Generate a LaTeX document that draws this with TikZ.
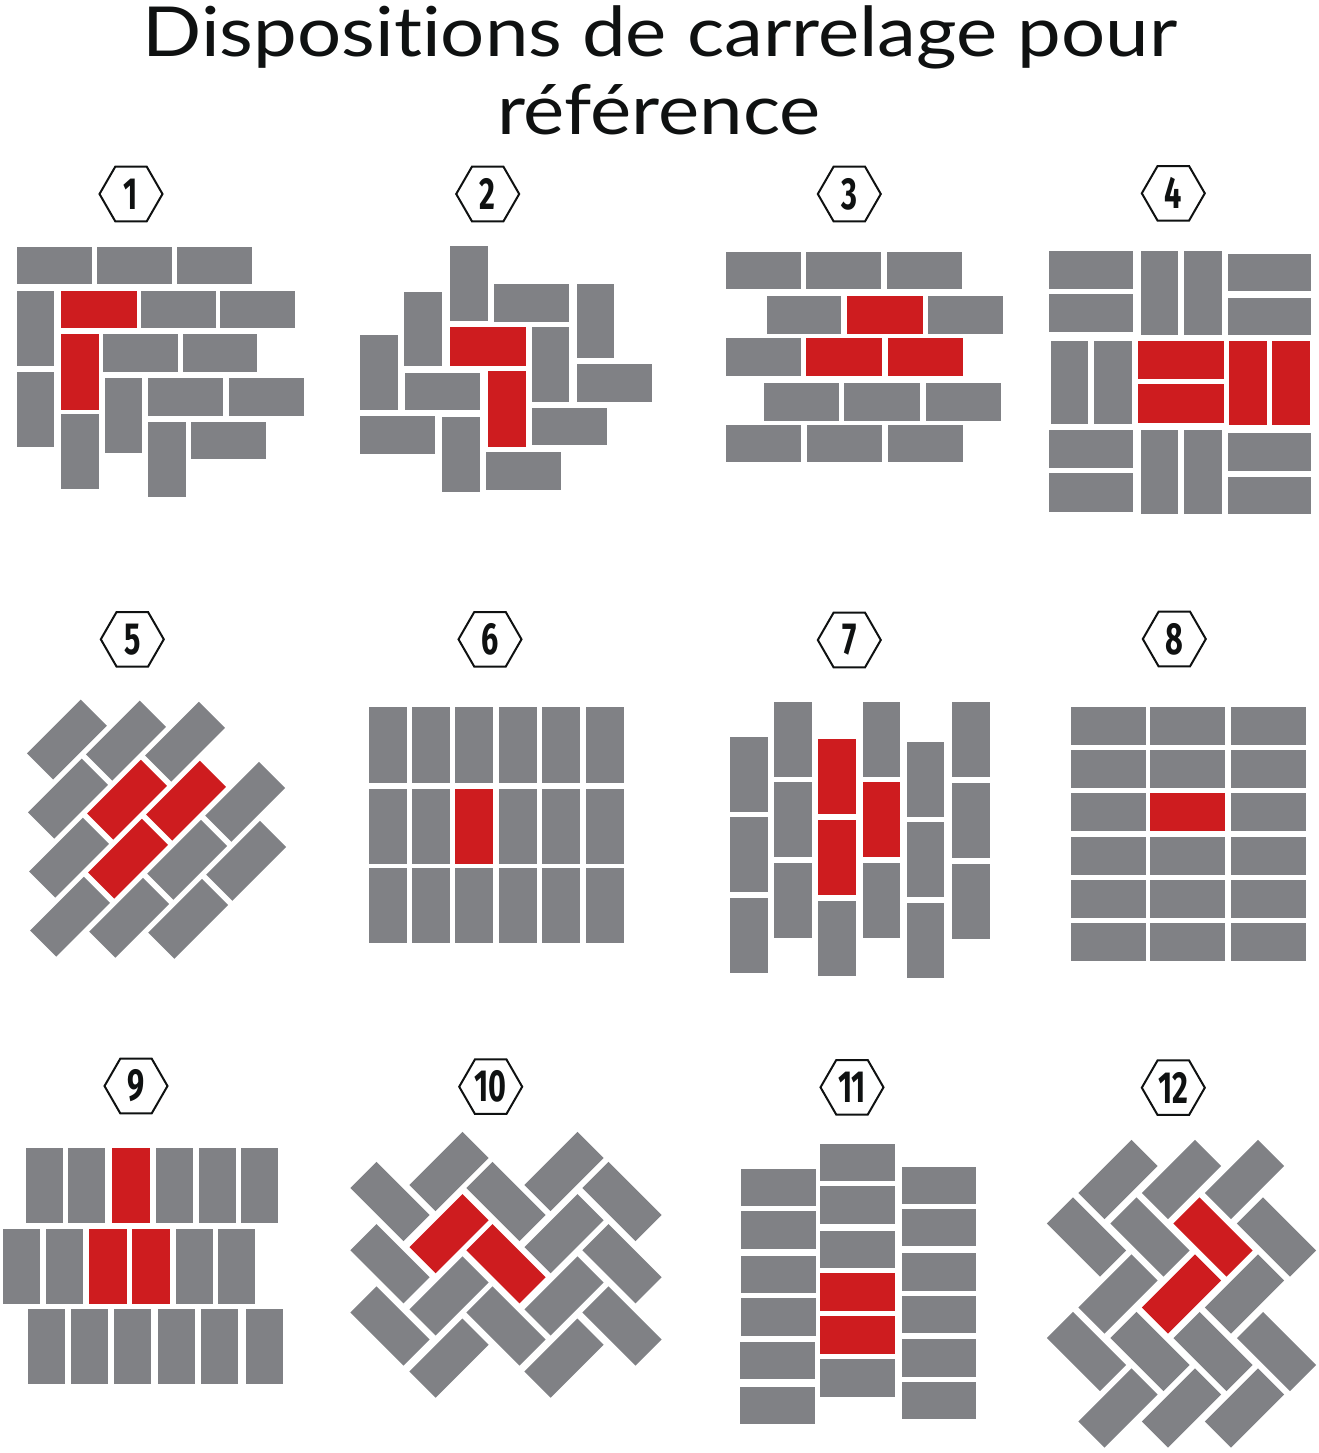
\documentclass[tikz,border=0pt]{standalone}
\usepackage{fontspec}
\setmainfont[Ligatures=NoCommon]{Lato}
\newfontfamily\numfont{Fira Sans}
\usetikzlibrary{shapes.geometric}
\definecolor{tilegray}{RGB}{128,129,133}
\definecolor{tilered}{RGB}{206,28,31}
\definecolor{ink}{RGB}{15,17,17}
\newcommand\Rc[4]{\fill (#1,#2) rectangle (#3,#4);}
\newcommand\Dt[3]{\fill[shift={(#1,#2)},rotate=#3] (-37.5,-18.5) rectangle (37.5,18.5);}
\newcommand\Pf[2]{\fill ({#1-38},{#2-18.5}) rectangle ({#1+38},{#2+18.5});}
\newcommand\hn[1]{\scalebox{0.68}[1]{\numfont\bfseries\fontsize{45}{45}\selectfont #1}}
\newcommand\wide[1]{\scalebox{1.13}[1]{#1}}
\begin{document}
\begin{tikzpicture}[x=1pt,y=-1pt,
  hexa/.style={draw=ink, line width=2pt, regular polygon, regular polygon sides=6,
    minimum size=63pt, inner sep=0pt, text=ink},
  ttl/.style={anchor=base, text=ink, font=\fontsize{69}{69}\selectfont, inner sep=0pt}]
\fill[white] (0,0) rectangle (1318,1453);
\path[use as bounding box] (0,0) rectangle (1318,1453);

% title
\node[ttl] (t1) at (660,57) {\wide{Dispositions de carrelage pour}};
\node[ttl] (t2) at (659,135) {\wide{référence}};

% hexagon labels
\node[hexa] (h1) at (131,194) {\hn{1}};
\node[hexa] (h2) at (487.7,194) {\hn{2}};
\node[hexa] (h3) at (849.3,194) {\hn{3}};
\node[hexa] (h4) at (1173.3,193.3) {\hn{4}};
\node[hexa] (h5) at (132.3,639.3) {\hn{5}};
\node[hexa] (h6) at (490,639.3) {\hn{6}};
\node[hexa] (h7) at (849.3,640) {\hn{7}};
\node[hexa] (h8) at (1174.3,639) {\hn{8}};
\node[hexa] (h9) at (136,1086) {\hn{9}};
\node[hexa] (h10) at (490.7,1086.7) {\hn{10}};
\node[hexa] (h11) at (852,1087.3) {\hn{11}};
\node[hexa] (h12) at (1173.3,1087.7) {\hn{12}};

% ---------- pattern 1
\begin{scope}[fill=tilegray]
\Rc{17}{247}{92}{284}\Rc{97}{247}{172}{284}\Rc{177}{247}{252}{284}
\Rc{17}{291}{54}{366}\Rc{141}{291}{216}{328}\Rc{220}{291}{295}{328}
\Rc{103}{334}{178}{372}\Rc{183}{334}{257}{372}
\Rc{17}{372}{54}{447}\Rc{105}{378}{142}{453}\Rc{148}{378}{223}{416}\Rc{229}{378}{304}{416}
\Rc{61}{414}{99}{489}\Rc{148}{422}{186}{497}\Rc{191}{422}{266}{459}
\end{scope}
\begin{scope}[fill=tilered]
\Rc{61}{291}{137}{328}\Rc{61}{334}{99}{410}
\end{scope}

% ---------- pattern 2
\begin{scope}[fill=tilegray]
\Rc{450}{246}{488}{321}\Rc{494}{284}{569}{322}\Rc{577}{284}{614}{358}
\Rc{404}{292}{442}{366}\Rc{532}{327}{569}{402}\Rc{360}{335}{398}{410}
\Rc{577}{364}{652}{402}\Rc{405}{373}{480}{410}\Rc{532}{408}{607}{445}
\Rc{360}{416}{435}{454}\Rc{442}{417}{480}{492}\Rc{486}{452}{561}{490}
\end{scope}
\begin{scope}[fill=tilered]
\Rc{450}{327}{526}{366}\Rc{488}{371}{526}{447}
\end{scope}

% ---------- pattern 3
\begin{scope}[fill=tilegray]
\Rc{726}{252}{801}{289}\Rc{806}{252}{881}{289}\Rc{887}{252}{962}{289}
\Rc{767}{296}{841}{334}\Rc{928}{296}{1003}{334}
\Rc{726}{338}{801}{376}
\Rc{764}{383}{839}{421}\Rc{844}{383}{920}{421}\Rc{926}{383}{1001}{421}
\Rc{726}{425}{801}{462}\Rc{807}{425}{882}{462}\Rc{888}{425}{963}{462}
\end{scope}
\begin{scope}[fill=tilered]
\Rc{847}{296}{923}{334}\Rc{806}{338}{882}{376}\Rc{888}{338}{963}{376}
\end{scope}

% ---------- pattern 4
\begin{scope}[fill=tilegray]
\Rc{1049}{251}{1133}{289}\Rc{1049}{294}{1133}{332}
\Rc{1141}{251}{1178}{335}\Rc{1184}{251}{1222}{335}
\Rc{1228}{254}{1311}{291}\Rc{1228}{298}{1311}{335}
\Rc{1051}{341}{1088}{424}\Rc{1094}{341}{1132}{424}
\Rc{1049}{430}{1133}{468}\Rc{1049}{473}{1133}{512}
\Rc{1141}{430}{1178}{514}\Rc{1184}{430}{1222}{514}
\Rc{1228}{433}{1311}{471}\Rc{1228}{477}{1311}{514}
\end{scope}
\begin{scope}[fill=tilered]
\Rc{1138}{341}{1224}{379}\Rc{1138}{384}{1224}{423}
\Rc{1229}{341}{1267}{425}\Rc{1272}{341}{1310}{425}
\end{scope}

% ---------- pattern 5 (running bond at 45 degrees)
\begin{scope}[shift={(127,799.7)},rotate=45]
\begin{scope}[fill=tilegray]
\Pf{0}{-85}\Pf{-41}{-42.5}\Pf{41}{-42.5}\Pf{-82}{0}\Pf{82}{0}
\Pf{-123}{42.5}\Pf{-82}{85}\Pf{0}{85}\Pf{82}{85}\Pf{-41}{127.5}\Pf{41}{127.5}
\end{scope}
\begin{scope}[fill=tilered]
\Pf{0}{0}\Pf{-41}{42.5}\Pf{41}{42.5}
\end{scope}
\end{scope}

% ---------- pattern 6
\begin{scope}[fill=tilegray]
\foreach \x in {369,412,455,499,542,586}{
  \foreach \y/\h in {707/76,789/75,868/75}{
    \fill (\x,\y) rectangle ++(38,\h);}}
\end{scope}
\fill[tilered] (455,789) rectangle ++(38,75);

% ---------- pattern 7
\begin{scope}[fill=tilegray]
\Rc{730}{737}{768}{812}\Rc{730}{817}{768}{892}\Rc{730}{898}{768}{973}
\Rc{774}{702}{812}{777}\Rc{774}{782}{812}{857}\Rc{774}{863}{812}{938}
\Rc{818}{901}{856}{976}
\Rc{863}{702}{900}{777}\Rc{863}{863}{900}{938}
\Rc{907}{742}{944}{817}\Rc{907}{822}{944}{897}\Rc{907}{903}{944}{978}
\Rc{952}{702}{990}{777}\Rc{952}{783}{990}{858}\Rc{952}{864}{990}{939}
\end{scope}
\begin{scope}[fill=tilered]
\Rc{818}{739}{856}{814}\Rc{818}{820}{856}{895}\Rc{863}{782}{900}{857}
\end{scope}

% ---------- pattern 8
\begin{scope}[fill=tilegray]
\foreach \x in {1071,1150,1231}{
  \foreach \y in {707,750,793,837,880,923}{
    \fill (\x,\y) rectangle ++(75,38);}}
\end{scope}
\fill[tilered] (1150,793) rectangle ++(75,38);

% ---------- pattern 9
\begin{scope}[fill=tilegray]
\foreach \x in {26,68,156,199,241}{\fill (\x,1148) rectangle ++(37,75);}
\foreach \x in {3,46,176,218}{\fill (\x,1229) rectangle ++(37,75);}
\foreach \x in {28,71,114,158,201,246}{\fill (\x,1309) rectangle ++(37,75);}
\end{scope}
\begin{scope}[fill=tilered]
\fill (112,1148) rectangle ++(38,75);
\fill (89,1229) rectangle ++(38,75);
\fill (132,1229) rectangle ++(38,75);
\end{scope}

% ---------- pattern 10 (herringbone, rows)
\begin{scope}[fill=tilegray]
\Dt{449}{1171.5}{45}\Dt{564}{1171.5}{45}
\Dt{564}{1233.7}{45}
\Dt{449}{1295.9}{45}\Dt{564}{1295.9}{45}
\Dt{449}{1358.1}{45}\Dt{564}{1358.1}{45}
\Dt{390}{1201.5}{-45}\Dt{506}{1201.5}{-45}\Dt{622}{1201.5}{-45}
\Dt{390}{1263.7}{-45}\Dt{622}{1263.7}{-45}
\Dt{390}{1326}{-45}\Dt{506}{1326}{-45}\Dt{622}{1326}{-45}
\end{scope}
\begin{scope}[fill=tilered]
\Dt{449}{1233.7}{45}\Dt{506}{1263.7}{-45}
\end{scope}

% ---------- pattern 11
\begin{scope}[fill=tilegray]
\foreach \y/\z in {1169/1206,1211/1249,1256/1293,1298/1336}{\Rc{741}{\y}{816}{\z}}
\Rc{740}{1342}{815}{1379}\Rc{740}{1387}{815}{1424}
\foreach \y/\z in {1144/1181,1186/1224,1231/1268,1359/1397}{\Rc{820}{\y}{895}{\z}}
\foreach \y/\z in {1167/1204,1209/1246,1253/1291,1296/1333,1339/1377,1382/1419}{\Rc{902}{\y}{976}{\z}}
\end{scope}
\begin{scope}[fill=tilered]
\Rc{820}{1273}{895}{1311}\Rc{820}{1316}{895}{1354}
\end{scope}

% ---------- pattern 12 (herringbone, columns)
\begin{scope}[fill=tilegray]
\Dt{1118}{1179.5}{45}\Dt{1181.5}{1179.5}{45}\Dt{1244.5}{1179.5}{45}
\Dt{1118}{1294}{45}\Dt{1244.5}{1294}{45}
\Dt{1118}{1408}{45}\Dt{1181.5}{1408}{45}\Dt{1244.5}{1408}{45}
\Dt{1086.5}{1237}{-45}\Dt{1150}{1237}{-45}\Dt{1276.5}{1237}{-45}
\Dt{1086.5}{1351.5}{-45}\Dt{1150}{1351.5}{-45}\Dt{1213}{1351.5}{-45}\Dt{1276.5}{1351.5}{-45}
\end{scope}
\begin{scope}[fill=tilered]
\Dt{1213}{1237}{-45}\Dt{1181.5}{1294}{45}
\end{scope}
\end{tikzpicture}
\end{document}
